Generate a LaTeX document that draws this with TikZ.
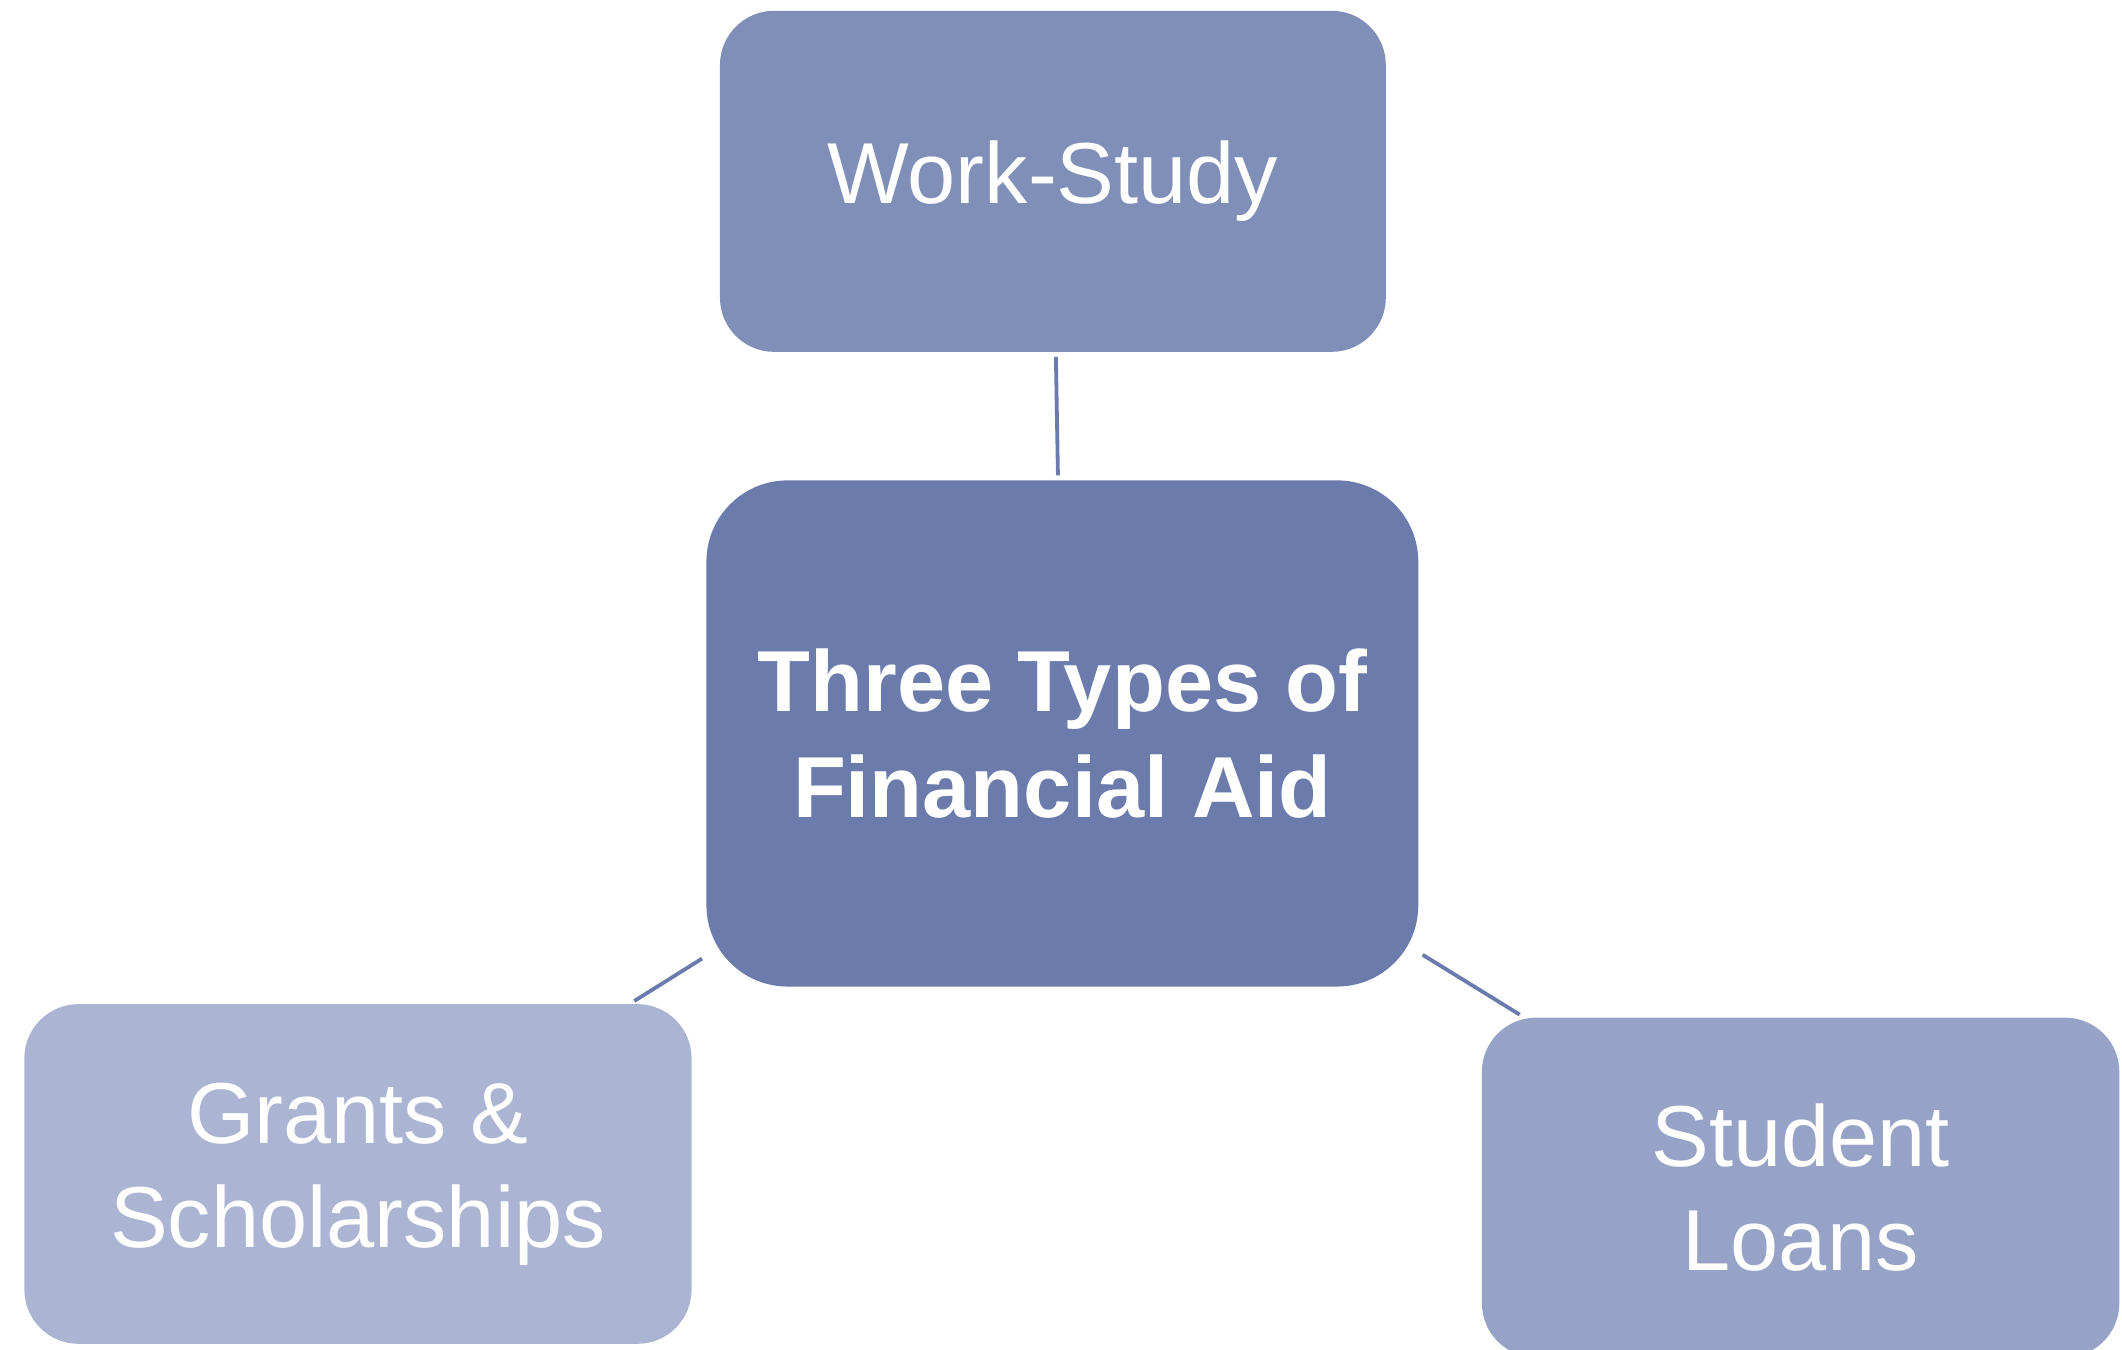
\documentclass[tikz,border=0pt]{standalone}
\usepackage{fontspec}
\setmainfont{Liberation Sans}
\usepackage{xcolor}
\usepackage{tikz}
\definecolor{text}{HTML}{FFFFFF}
\definecolor{hubfill}{HTML}{6A7BAC}
\definecolor{workfill}{HTML}{808FB8}
\definecolor{grantfill}{HTML}{ABB4D2}
\definecolor{loanfill}{HTML}{96A3C6}
\definecolor{linkcol}{HTML}{6B7BAD}
\tikzset{
  card/.style={rectangle, rounded corners=0.4cm, inner sep=0pt, text=text, align=center,
    minimum width=4.92cm, minimum height=2.52cm, font=\fontsize{18.2}{21.8}\selectfont},
  hub/.style={card, rounded corners=0.6cm, fill=hubfill, minimum width=5.26cm, minimum height=3.74cm,
    font=\fontsize{18.2}{22.2}\selectfont\bfseries},
  link/.style={draw=linkcol, line width=0.8pt, shorten <=0.03cm, shorten >=0.03cm},
}
\begin{document}
\begin{tikzpicture}
  \useasboundingbox (0,0) rectangle (15.68,9.97);

  % centre and the three kinds of aid
  \node[hub] (aid) at (7.85,4.55) {Three Types of\\Financial Aid};
  \node[card, fill=workfill] (work) at (7.78,8.63) {Work-Study};
  \node[card, fill=grantfill, minimum width=4.93cm, minimum height=2.51cm] (grants) at (2.645,1.295) {Grants \&\\Scholarships};
  \node[card, fill=loanfill, minimum width=4.71cm, minimum height=2.51cm] (loans) at (13.305,1.195) {Student\\Loans};

  % links from the centre
  \draw[link] (aid) -- (work);
  \draw[link] (aid) -- (grants);
  \draw[link] (aid) -- (loans);
\end{tikzpicture}
\end{document}
